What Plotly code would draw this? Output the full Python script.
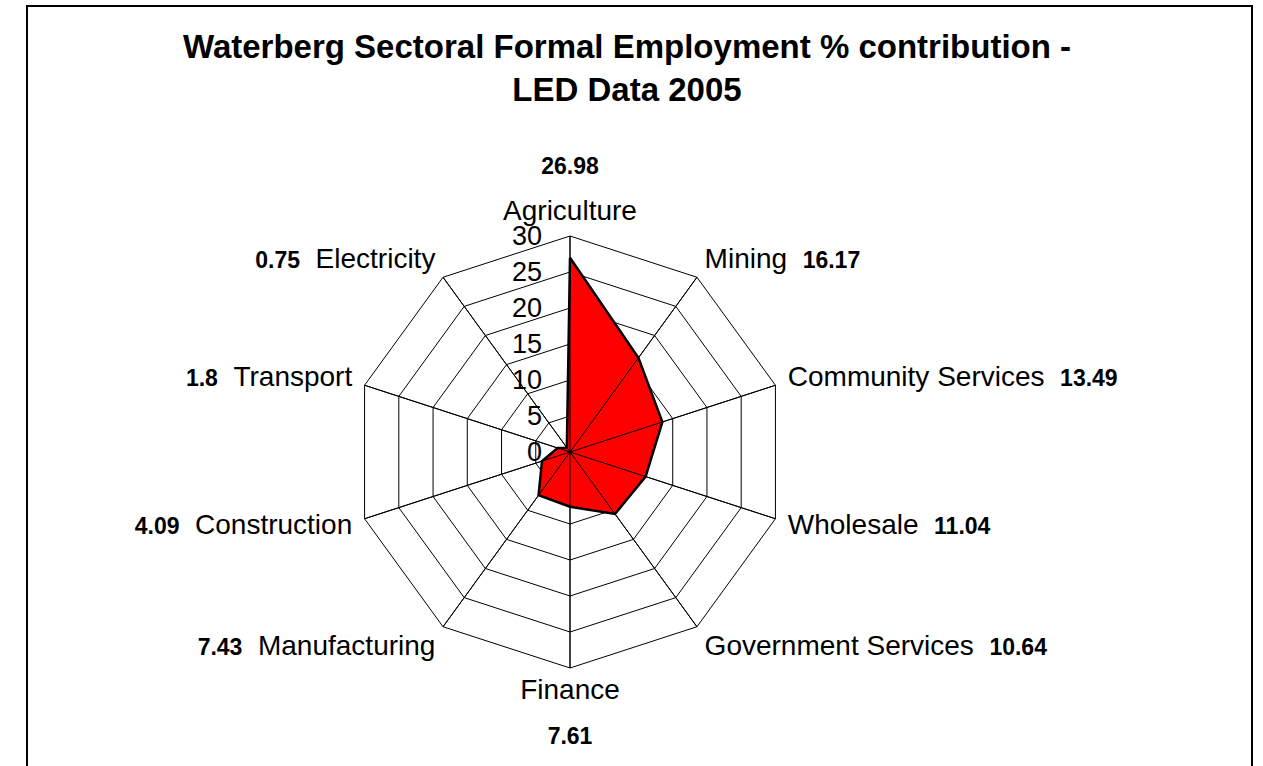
import plotly.graph_objects as go

# Waterberg formal employment share by sector (LED data, 2005), clockwise from top
sectors = ["Agriculture", "Mining", "Community Services", "Wholesale",
           "Government Services", "Finance", "Manufacturing", "Construction",
           "Transport", "Electricity"]
employment_pct = [26.98, 16.17, 13.49, 11.04, 10.64, 7.61, 7.43, 4.09, 1.8, 0.75]
radial_ticks = [0, 5, 10, 15, 20, 25, 30]

W, H = 1263, 766
CX, CY, R = 570, 452, 216  # centre and outer radius of the radar, in pixels
R_MAX = radial_ticks[-1]

FONT = "Liberation Sans, Arial, sans-serif"


def sector_label(name, value, i, n):
    """Category name plus its bold value, arranged around the radar."""
    ang = 360.0 * i / n
    cat = f"<span style='font-size:28px'>{name}</span>"
    val = f"<span style='font-size:23px'><b>{value:g}</b></span>"
    gap = "<span style='font-size:28px'>\u00a0\u00a0</span>"
    if ang == 0:
        return val + "<br><br>" + cat
    if ang == 180:
        return cat + "<br><br>" + val
    if ang < 180:
        return cat + gap + val
    return val + gap + cat


n = len(sectors)
ticktext = [sector_label(s, v, i, n) for i, (s, v) in enumerate(zip(sectors, employment_pct))]

fig = go.Figure()
fig.add_trace(go.Scatterpolar(
    r=employment_pct + employment_pct[:1],
    theta=sectors + sectors[:1],
    mode="lines",
    fill="toself",
    fillcolor="#FF0000",
    line=dict(color="black", width=2.5),
    hoverinfo="skip",
    showlegend=False,
))

# spokes drawn on top of the filled area
for s in sectors:
    fig.add_trace(go.Scatterpolar(
        r=[0, R_MAX], theta=[s, s], mode="lines",
        line=dict(color="black", width=1),
        hoverinfo="skip", showlegend=False,
    ))

fig.update_layout(
    width=W, height=H,
    autosize=False,
    margin=dict(l=0, r=0, t=0, b=0),
    paper_bgcolor="white",
    font=dict(family=FONT, color="black"),
    title=dict(
        text="<b>Waterberg Sectoral Formal Employment % contribution -<br>LED Data 2005</b>",
        font=dict(family=FONT, size=33, color="black"),
        x=627 / W, xanchor="center",
        y=1 - 58 / H, yanchor="top",
    ),
    polar=dict(
        domain=dict(x=[(CX - R) / W, (CX + R) / W],
                    y=[1 - (CY + R) / H, 1 - (CY - R) / H]),
        gridshape="linear",
        bgcolor="white",
        angularaxis=dict(
            direction="clockwise", rotation=90,
            categoryorder="array", categoryarray=sectors,
            tickmode="array", tickvals=sectors, ticktext=ticktext,
            tickfont=dict(family=FONT, size=17.5, color="black"),
            showline=True, linecolor="black", linewidth=1,
            showgrid=True, gridcolor="black", gridwidth=1,
            ticks="outside", ticklen=9, tickcolor="rgba(0,0,0,0)",
        ),
        radialaxis=dict(
            range=[0, R_MAX], tickmode="array", tickvals=radial_ticks,
            angle=90, side="counterclockwise", tickangle=90,
            showline=False,
            showgrid=True, gridcolor="black", gridwidth=1,
            ticks="outside", ticklen=18, tickcolor="rgba(0,0,0,0)",
            tickfont=dict(family=FONT, size=27, color="black"),
            layer="below traces",
        ),
    ),
    shapes=[dict(
        type="rect", xref="paper", yref="paper",
        x0=27 / W, x1=1252 / W, y0=-0.05, y1=1 - 6 / H,
        line=dict(color="black", width=2), fillcolor="rgba(0,0,0,0)",
    )],
)

fig.write_html("out.html")
